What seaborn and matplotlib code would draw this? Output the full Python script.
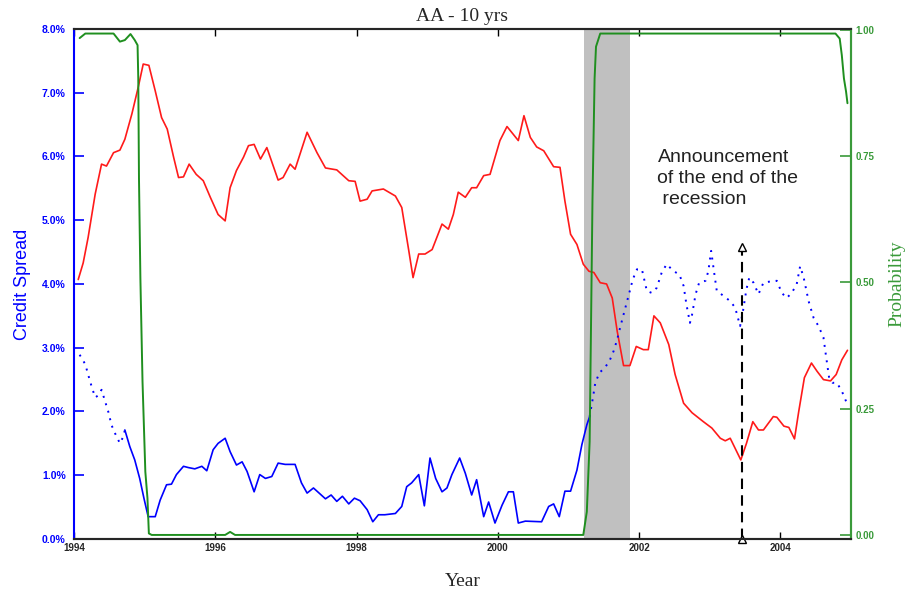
import seaborn as sns
import matplotlib
matplotlib.use("Agg")
import matplotlib.pyplot as plt
from matplotlib.ticker import FuncFormatter

# data (decimal years)
red_year = [1994.06, 1994.13, 1994.20, 1994.30, 1994.39, 1994.46, 1994.56, 1994.65, 1994.72, 1994.82,
            1994.91, 1994.98, 1995.06, 1995.15, 1995.24, 1995.32, 1995.41, 1995.48, 1995.55, 1995.63,
            1995.73, 1995.83, 1995.93, 1996.04, 1996.14, 1996.21, 1996.30, 1996.40, 1996.47, 1996.55,
            1996.64, 1996.73, 1996.89, 1996.96, 1997.06, 1997.13, 1997.30, 1997.44, 1997.56, 1997.72,
            1997.89, 1997.98, 1998.05, 1998.15, 1998.22, 1998.38, 1998.55, 1998.64, 1998.74, 1998.80,
            1998.88, 1998.97, 1999.07, 1999.21, 1999.30, 1999.37, 1999.44, 1999.54, 1999.63, 1999.70,
            1999.80, 1999.89, 2000.03, 2000.13, 2000.29, 2000.37, 2000.46, 2000.55, 2000.65, 2000.79,
            2000.88, 2000.95, 2001.03, 2001.12, 2001.21, 2001.29, 2001.36, 2001.45, 2001.54, 2001.62,
            2001.69, 2001.78, 2001.87, 2001.96, 2002.06, 2002.13, 2002.21, 2002.30, 2002.42, 2002.51,
            2002.63, 2002.75, 2002.91, 2003.03, 2003.15, 2003.22, 2003.29, 2003.44, 2003.52, 2003.61,
            2003.69, 2003.76, 2003.90, 2003.95, 2004.05, 2004.12, 2004.20, 2004.26, 2004.34, 2004.44,
            2004.52, 2004.61, 2004.71, 2004.79, 2004.87, 2004.95]
red_val = [4.07, 4.33, 4.73, 5.41, 5.88, 5.85, 6.06, 6.10, 6.27, 6.67,
           7.09, 7.45, 7.43, 7.03, 6.61, 6.43, 5.99, 5.67, 5.68, 5.88,
           5.72, 5.62, 5.36, 5.09, 4.99, 5.51, 5.78, 5.99, 6.17, 6.19,
           5.96, 6.14, 5.63, 5.67, 5.88, 5.80, 6.38, 6.06, 5.82, 5.79,
           5.62, 5.61, 5.30, 5.33, 5.46, 5.49, 5.38, 5.20, 4.52, 4.10,
           4.47, 4.47, 4.54, 4.94, 4.86, 5.09, 5.44, 5.36, 5.51, 5.51,
           5.70, 5.72, 6.25, 6.47, 6.25, 6.64, 6.30, 6.15, 6.09, 5.84,
           5.83, 5.30, 4.78, 4.62, 4.31, 4.20, 4.18, 4.02, 4.00, 3.78,
           3.26, 2.72, 2.72, 3.02, 2.97, 2.97, 3.50, 3.39, 3.05, 2.58,
           2.13, 1.98, 1.84, 1.74, 1.58, 1.54, 1.58, 1.24, 1.50, 1.84,
           1.71, 1.71, 1.92, 1.91, 1.77, 1.75, 1.57, 2.00, 2.53, 2.76,
           2.63, 2.50, 2.48, 2.58, 2.81, 2.96]

# credit spread, observed part (solid)
blue_year = [1994.72, 1994.79, 1994.86, 1994.93, 1994.99, 1995.05, 1995.15, 1995.22, 1995.31, 1995.38,
             1995.45, 1995.55, 1995.62, 1995.71, 1995.81, 1995.88, 1995.97, 1996.04, 1996.14, 1996.21,
             1996.30, 1996.38, 1996.45, 1996.55, 1996.63, 1996.71, 1996.80, 1996.89, 1996.99, 1997.13,
             1997.22, 1997.30, 1997.39, 1997.56, 1997.64, 1997.72, 1997.80, 1997.89, 1997.97, 1998.05,
             1998.15, 1998.23, 1998.31, 1998.40, 1998.55, 1998.64, 1998.71, 1998.78, 1998.88, 1998.96,
             1999.04, 1999.12, 1999.21, 1999.28, 1999.35, 1999.46, 1999.54, 1999.63, 1999.70, 1999.80,
             1999.87, 1999.96, 2000.06, 2000.15, 2000.22, 2000.29, 2000.39, 2000.62, 2000.72, 2000.79,
             2000.87, 2000.95, 2001.03, 2001.12, 2001.19, 2001.26, 2001.30]
blue_val = [1.71, 1.45, 1.24, 0.95, 0.64, 0.35, 0.35, 0.61, 0.85, 0.86,
            1.01, 1.14, 1.12, 1.10, 1.14, 1.07, 1.40, 1.50, 1.58, 1.37,
            1.16, 1.21, 1.06, 0.74, 1.01, 0.95, 0.98, 1.19, 1.17, 1.17,
            0.88, 0.72, 0.80, 0.63, 0.69, 0.59, 0.67, 0.55, 0.64, 0.60,
            0.46, 0.27, 0.38, 0.38, 0.40, 0.51, 0.82, 0.88, 1.01, 0.52,
            1.27, 0.95, 0.74, 0.80, 1.01, 1.27, 1.03, 0.69, 0.93, 0.35,
            0.58, 0.25, 0.53, 0.74, 0.74, 0.25, 0.28, 0.27, 0.51, 0.55,
            0.35, 0.75, 0.75, 1.08, 1.48, 1.79, 1.92]

# credit spread, dotted parts
dot1_year = [1994.08, 1994.16, 1994.20, 1994.25, 1994.30, 1994.34, 1994.39, 1994.44, 1994.49, 1994.53,
             1994.58, 1994.65, 1994.70, 1994.72]
dot1_val = [2.89, 2.74, 2.58, 2.39, 2.22, 2.25, 2.34, 2.16, 1.98, 1.79,
            1.66, 1.50, 1.61, 1.71]
dot2_year = [2001.30, 2001.35, 2001.38, 2001.44, 2001.51, 2001.58, 2001.64, 2001.69, 2001.73, 2001.78,
             2001.83, 2001.88, 2001.91, 2001.97, 2002.04, 2002.11, 2002.18, 2002.25, 2002.32, 2002.39,
             2002.49, 2002.57, 2002.63, 2002.67, 2002.72, 2002.75, 2002.80, 2002.85, 2002.94, 2002.98,
             2003.02, 2003.06, 2003.10, 2003.20, 2003.29, 2003.36, 2003.43, 2003.47, 2003.52, 2003.56,
             2003.62, 2003.69, 2003.76, 2003.86, 2003.95, 2004.02, 2004.09, 2004.16, 2004.23, 2004.28,
             2004.33, 2004.40, 2004.47, 2004.54, 2004.61, 2004.65, 2004.69, 2004.74, 2004.80, 2004.87,
             2004.93]
dot2_val = [1.92, 2.24, 2.45, 2.61, 2.68, 2.79, 2.95, 3.13, 3.31, 3.52,
            3.73, 3.94, 4.07, 4.23, 4.23, 3.89, 3.86, 3.94, 4.18, 4.31,
            4.20, 4.15, 3.97, 3.68, 3.39, 3.52, 3.84, 4.02, 4.05, 4.20,
            4.52, 4.20, 3.89, 3.81, 3.73, 3.63, 3.34, 3.57, 3.92, 4.10,
            4.02, 3.84, 4.02, 4.04, 4.05, 3.86, 3.78, 3.86, 3.99, 4.28,
            4.10, 3.73, 3.47, 3.34, 3.16, 2.84, 2.53, 2.45, 2.45, 2.32,
            2.16]

# probability (right axis)
prob_year = [1994.08, 1994.16, 1994.56, 1994.65, 1994.72, 1994.80, 1994.86, 1994.90, 1994.91, 1994.92,
             1994.94, 1994.97, 1995.01, 1995.04, 1995.06, 1995.10, 1996.14, 1996.21, 1996.28, 2001.21,
             2001.26, 2001.30, 2001.32, 2001.34, 2001.37, 2001.39, 2001.45, 2004.78, 2004.84, 2004.87,
             2004.90, 2004.93, 2004.95]
prob_val = [0.984, 0.993, 0.993, 0.977, 0.980, 0.992, 0.980, 0.970, 0.904, 0.706,
            0.508, 0.304, 0.125, 0.073, 0.003, 0.0, 0.0, 0.006, 0.0, 0.0,
            0.046, 0.185, 0.422, 0.663, 0.904, 0.967, 0.993, 0.993, 0.983, 0.950,
            0.904, 0.878, 0.855]

recession_start, recession_end = 2001.22, 2001.87
announce_date, announce_level = 2003.46, 4.58
year_ticks = [1994, 1996, 1998, 2000, 2002, 2004]
spread_ticks = [0, 1, 2, 3, 4, 5, 6, 7, 8]
prob_ticks = [0.0, 0.25, 0.5, 0.75, 1.0]

BLUE = "#0000ff"
RED = "#ff1a1a"
GREEN = "#1f8f1f"
GREEN_AX = "#3a9a3a"

sns.set_style("white")
plt.rcParams["font.family"] = ["Liberation Sans", "DejaVu Sans"]

fig = plt.figure(figsize=(9.09, 5.93), dpi=100)
ax = fig.add_axes([0.0814, 0.0911, 0.8548, 0.860])

ax.axvspan(recession_start, recession_end, color="#c0c0c0", lw=0, zorder=0)

sns.lineplot(x=red_year, y=red_val, ax=ax, color=RED, lw=1.2, estimator=None)
sns.lineplot(x=blue_year, y=blue_val, ax=ax, color=BLUE, lw=1.2, estimator=None)
sns.lineplot(x=dot1_year, y=dot1_val, ax=ax, color=BLUE, lw=1.4, ls=(0, (1, 3)), estimator=None)
sns.lineplot(x=dot2_year, y=dot2_val, ax=ax, color=BLUE, lw=1.4, ls=(0, (1, 3)), estimator=None)

# announcement marker
ax.plot([announce_date, announce_date], [0, announce_level], color="black", lw=1.5,
        ls=(0, (5, 3)), marker="^", ms=6, mfc="white", mec="black", mew=1, clip_on=False, zorder=5)
ax.text(2002.26, 6.12, "Announcement\nof the end of the\n recession", ha="left", va="top",
        fontsize=14, color="#222222", linespacing=1.3)

ax.set_xlim(1994, 2005)
ax.set_ylim(0, 8)
ax.set_xticks(year_ticks)
ax.set_xticklabels([str(y) for y in year_ticks])
ax.set_yticks(spread_ticks)
ax.yaxis.set_major_formatter(FuncFormatter(lambda v, p: f"{v:.1f}%"))
ax.tick_params(axis="x", direction="in", top=True, bottom=True, length=5, width=1,
               color="black", labelsize=7, pad=3)
ax.tick_params(axis="y", direction="in", left=True, right=True, length=7, width=1.2,
               colors=BLUE, labelsize=7.5, pad=6)
for lab in ax.get_xticklabels() + ax.get_yticklabels():
    lab.set_fontweight("bold")

ax.spines["left"].set_color(BLUE)
ax.spines["right"].set_color(GREEN_AX)
for s in ("top", "bottom"):
    ax.spines[s].set_color("#333333")
for s in ax.spines.values():
    s.set_linewidth(1.5)

ax.set_title("AA - 10 yrs", family=["Liberation Serif"], fontsize=14, pad=6)
ax.set_xlabel("Year", family=["Liberation Serif"], fontsize=14, labelpad=14)
ax.set_ylabel("Credit Spread", color=BLUE, fontsize=13, labelpad=8)

ax2 = ax.twinx()
sns.lineplot(x=prob_year, y=prob_val, ax=ax2, color=GREEN, lw=1.4, estimator=None)
ax2.set_ylim(-0.008, 1.002)
ax2.set_yticks(prob_ticks)
ax2.yaxis.set_major_formatter(FuncFormatter(lambda v, p: f"{v:.2f}"))
ax2.tick_params(axis="y", direction="in", length=8, width=1.2, colors=GREEN_AX, labelsize=7, pad=3)
for lab in ax2.get_yticklabels():
    lab.set_fontweight("bold")
ax2.spines["right"].set_color(GREEN_AX)
ax2.spines["left"].set_visible(False)
for s in ax2.spines.values():
    s.set_linewidth(1.5)
ax2.set_ylabel("Probability", color=GREEN_AX, family=["Liberation Serif"], fontsize=14, labelpad=10)

fig.savefig("out.png", dpi=100)
